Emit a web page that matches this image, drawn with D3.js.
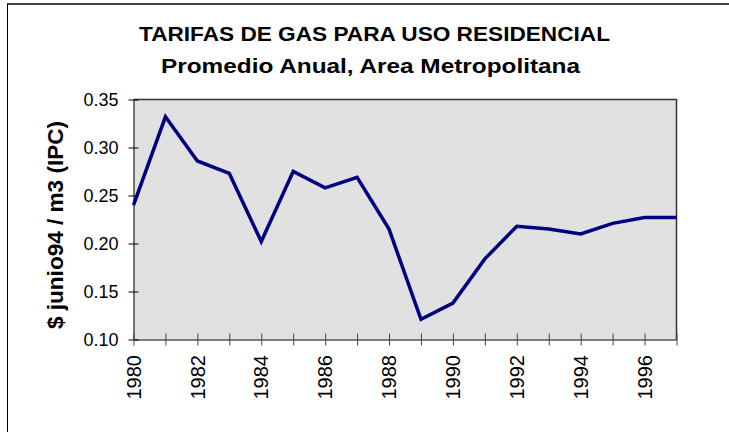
<!DOCTYPE html>
<html>
<head>
<meta charset="utf-8">
<script src="https://cdn.jsdelivr.net/npm/d3@7"></script>
<style>
  html, body { margin: 0; padding: 0; background: #ffffff; }
  svg { display: block; }
  text { font-family: "Liberation Sans", Arial, sans-serif; }
</style>
</head>
<body>
<script>
const years = [1980,1981,1982,1983,1984,1985,1986,1987,1988,1989,1990,1991,1992,1993,1994,1995,1996,1997];
const tarifas = [0.240,0.332,0.286,0.273,0.202,0.275,0.258,0.269,0.215,0.121,0.138,0.184,0.218,0.215,0.210,0.221,0.227,0.227];
const yTicks = [0.10,0.15,0.20,0.25,0.30,0.35];
const xTickYears = [1980,1981,1982,1983,1984,1985,1986,1987,1988,1989,1990,1991,1992,1993,1994,1995,1996,1997];
const xLabelYears = [1980,1982,1984,1986,1988,1990,1992,1994,1996];
const titleLines = ["TARIFAS DE GAS PARA USO RESIDENCIAL", "Promedio Anual, Area Metropolitana"];
const yAxisTitle = "$ junio94 / m3 (IPC)";

const W = 729, H = 432;
const plot = {left: 133.5, top: 99.5, right: 676.5, bottom: 339.5};

const svg = d3.select("body").append("svg").attr("width", W).attr("height", H);

// outer frame
svg.append("line").attr("x1", 7).attr("x2", W).attr("y1", 4).attr("y2", 4)
  .attr("stroke", "#444").attr("stroke-width", 2);
svg.append("line").attr("x1", 7.5).attr("x2", 7.5).attr("y1", 4).attr("y2", H)
  .attr("stroke", "#000").attr("stroke-width", 1);

const x = d3.scaleLinear().domain([1980, 1997]).range([plot.left, plot.right]);
const y = d3.scaleLinear().domain([0.10, 0.35]).range([plot.bottom, plot.top]);

// plot background
svg.append("rect").attr("x", plot.left).attr("y", plot.top)
  .attr("width", plot.right - plot.left).attr("height", plot.bottom - plot.top)
  .attr("fill", "#e1e1e1");
// top and right border of plot area
svg.append("path")
  .attr("d", `M${plot.left},${plot.top}H${plot.right}V${plot.bottom}`)
  .attr("fill", "none").attr("stroke", "#333").attr("stroke-width", 1.5);

// y axis
const yAxis = d3.axisLeft(y).tickValues(yTicks).tickFormat(d3.format(".2f"))
  .tickSizeInner(5).tickSizeOuter(0).tickPadding(10);
const gy = svg.append("g").attr("transform", `translate(${plot.left},0)`).call(yAxis);
gy.selectAll(".tick line").attr("x2", -5).attr("x1", 5);
gy.select(".domain").attr("stroke", "#000");
gy.selectAll("text").attr("font-size", 18).attr("fill", "#000")
  .style("font-family", '"Liberation Sans", Arial, sans-serif');

// x axis
const xAxis = d3.axisBottom(x).tickValues(xTickYears).tickFormat("").tickSizeOuter(0);
const gx = svg.append("g").attr("transform", `translate(0,${plot.bottom})`).call(xAxis);
gx.selectAll(".tick line").attr("y1", -6).attr("y2", 6).attr("stroke", "#444");
gx.select(".domain").attr("stroke", "#000");

svg.append("g").selectAll("text").data(xLabelYears).join("text")
  .attr("transform", d => `translate(${x(d)},355) rotate(-90)`)
  .attr("text-anchor", "end").attr("dy", "0.36em")
  .attr("font-size", 20).attr("fill", "#000")
  .text(d => d);

// line
const line = d3.line().x((d, i) => x(years[i])).y(d => y(d));
svg.append("path").datum(tarifas).attr("d", line)
  .attr("fill", "none").attr("stroke", "#000080").attr("stroke-width", 3.5)
  .attr("stroke-linejoin", "miter");

// titles
svg.append("text").attr("x", 374.5).attr("y", 41).attr("text-anchor", "middle")
  .attr("font-size", 21).attr("font-weight", "bold")
  .attr("textLength", 471).attr("lengthAdjust", "spacingAndGlyphs")
  .text(titleLines[0]);
svg.append("text").attr("x", 370.5).attr("y", 73).attr("text-anchor", "middle")
  .attr("font-size", 21).attr("font-weight", "bold")
  .attr("textLength", 419).attr("lengthAdjust", "spacingAndGlyphs")
  .text(titleLines[1]);

// y axis title
svg.append("text").attr("transform", `translate(63,225) rotate(-90)`)
  .attr("text-anchor", "middle").attr("font-size", 22).attr("font-weight", "bold")
  .attr("textLength", 208).attr("lengthAdjust", "spacingAndGlyphs")
  .text(yAxisTitle);
</script>
</body>
</html>
